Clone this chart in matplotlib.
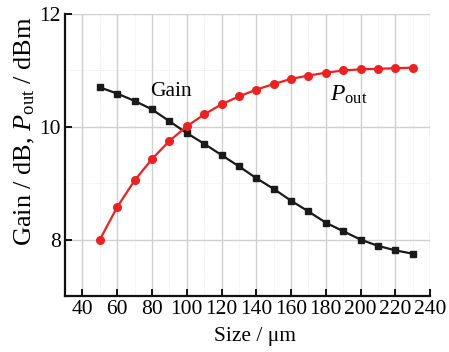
import matplotlib
matplotlib.use("Agg")
import matplotlib.pyplot as plt
from matplotlib.ticker import MultipleLocator

size_um = [50, 60, 70, 80, 90, 100, 110, 120, 130, 140, 150, 160, 170, 180, 190, 200, 210, 220, 230]
gain_db = [10.70, 10.59, 10.46, 10.31, 10.10, 9.89, 9.70, 9.50, 9.30, 9.09, 8.90, 8.69, 8.50, 8.30, 8.15, 8.00, 7.89, 7.81, 7.75]
pout_dbm = [8.00, 8.58, 9.05, 9.43, 9.75, 10.01, 10.22, 10.40, 10.54, 10.66, 10.76, 10.85, 10.91, 10.96, 11.00, 11.02, 11.03, 11.04, 11.05]
x_ticks = [40, 60, 80, 100, 120, 140, 160, 180, 200, 220, 240]
y_ticks = [8, 10, 12]

plt.rcParams['font.family'] = ['Liberation Serif', 'DejaVu Serif']
plt.rcParams['mathtext.fontset'] = 'custom'
plt.rcParams['mathtext.it'] = 'Liberation Serif:italic'
plt.rcParams['mathtext.rm'] = 'Liberation Serif'

fig = plt.figure(figsize=(4.49, 3.52), dpi=100)
ax = fig.add_axes([0.145, 0.159, 0.813, 0.801])

ax.plot(size_um, gain_db, color='#1a1a1a', marker='s', markersize=5, linewidth=1.6, zorder=3)
ax.plot(size_um, pout_dbm, color='#f02020', marker='o', markersize=5.5, linewidth=1.6, zorder=3)

ax.set_xlim(30, 240)
ax.set_ylim(7, 12)
ax.set_xticks(x_ticks)
ax.set_yticks(y_ticks)
ax.xaxis.set_minor_locator(MultipleLocator(10))
ax.yaxis.set_minor_locator(MultipleLocator(1))

ax.grid(which='major', color='#d0d0d0', linewidth=1.0, zorder=0)
ax.grid(which='minor', color='#e4e4e4', linewidth=0.6, linestyle=':', zorder=0)
ax.set_axisbelow(True)

for s in ['top', 'right']:
    ax.spines[s].set_visible(False)
for s in ['left', 'bottom']:
    ax.spines[s].set_linewidth(1.6)
    ax.spines[s].set_color('#111111')

ax.tick_params(which='major', direction='in', length=5, width=1.3, labelsize=15.5, pad=3)
ax.tick_params(which='minor', length=0)

ax.set_xlabel('Size / μm', fontsize=15.5)
ax.xaxis.set_label_coords(0.52, -0.11)
ax.set_ylabel('Gain / dB, $P_{\\mathrm{out}}$ / dBm', fontsize=19, va='center')
ax.yaxis.set_label_coords(-0.11, 0.585)

ax.text(91, 10.62, 'Gain', fontsize=15.5, ha='center', va='center')
ax.text(193, 10.57, '$P_{\\mathrm{out}}$', fontsize=17, ha='center', va='center')

fig.savefig('out.png', dpi=100)
